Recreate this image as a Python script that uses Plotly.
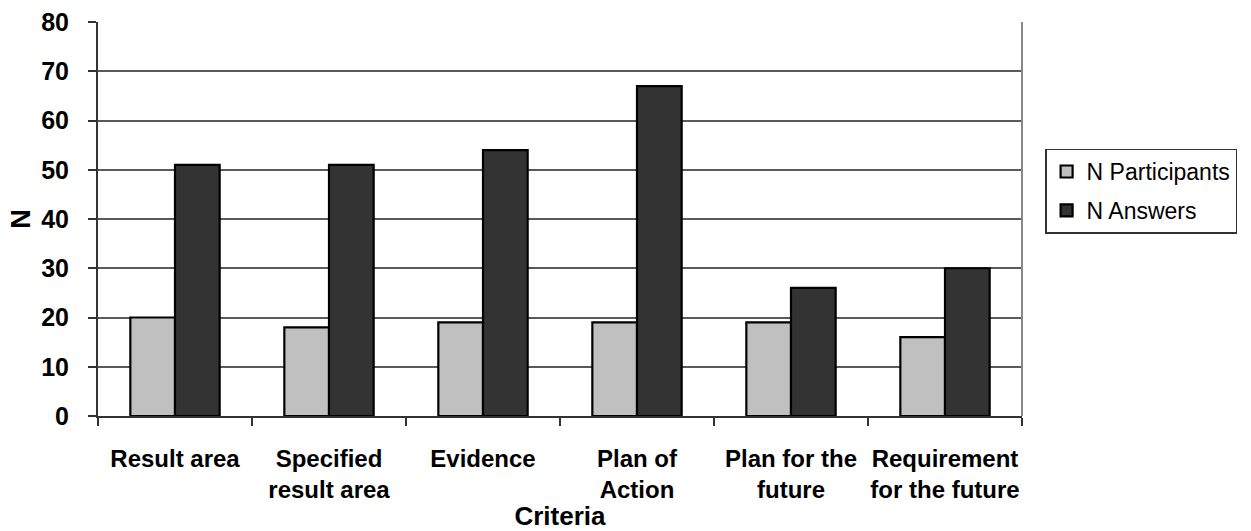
import plotly.graph_objects as go

# Criteria categories and counts per series
categories = [
    "Result area",
    "Specified<br>result area",
    "Evidence",
    "Plan of<br>Action",
    "Plan for the<br>future",
    "Requirement<br>for the future",
]
n_participants = [20, 18, 19, 19, 19, 16]
n_answers = [51, 51, 54, 67, 26, 30]

FONT = "Liberation Sans, Arial, sans-serif"

fig = go.Figure()
fig.add_trace(go.Bar(
    x=categories, y=n_participants, name="N Participants",
    marker=dict(color="#c0c0c0", line=dict(color="#000000", width=2.2)),
    legendgroup="p",
))
fig.add_trace(go.Bar(
    x=categories, y=n_answers, name="N Answers",
    marker=dict(color="#333333", line=dict(color="#000000", width=2.2)),
    legendgroup="a",
))

fig.update_layout(
    width=1251, height=531,
    margin=dict(l=98, r=229, t=22, b=115),
    paper_bgcolor="white", plot_bgcolor="white",
    barmode="group", bargap=0.42, bargroupgap=0,
    font=dict(family=FONT, size=24, color="#000000"),
    legend=dict(
        x=1.025, xanchor="left", y=0.571, yanchor="middle",
        bordercolor="#333333", borderwidth=1.5,
        font=dict(family=FONT, size=23, color="#000000"),
        traceorder="grouped", tracegroupgap=6,
        itemwidth=30,
    ),
    xaxis=dict(
        type="category", automargin=False, tickangle=0,
        showline=True, linecolor="#333333", linewidth=2,
        ticks="outside", tickson="boundaries", ticklen=8, tickwidth=2, tickcolor="#333333",
        tickfont=dict(family=FONT, size=24, color="#000000", weight="bold"),
        ticklabelstandoff=20,
        title=dict(text="<b>Criteria</b>", font=dict(family=FONT, size=26), standoff=8),
        showgrid=False,
    ),
    yaxis=dict(
        range=[0, 80], dtick=10, automargin=False,
        showline=True, linecolor="#333333", linewidth=2,
        ticks="outside", ticklen=8, tickwidth=2, tickcolor="#333333",
        tickfont=dict(family=FONT, size=25, color="#000000", weight="bold"),
        ticklabelstandoff=14,
        showgrid=True, gridcolor="#5a5a5a", gridwidth=1.5,
        zeroline=False,
        title=dict(text="<b>N</b>", font=dict(family=FONT, size=27), standoff=3),
    ),
    shapes=[
        dict(type="line", xref="paper", yref="paper", x0=1, x1=1, y0=0, y1=1,
             line=dict(color="#888888", width=2)),
    ],
)

fig.write_html("out.html")
